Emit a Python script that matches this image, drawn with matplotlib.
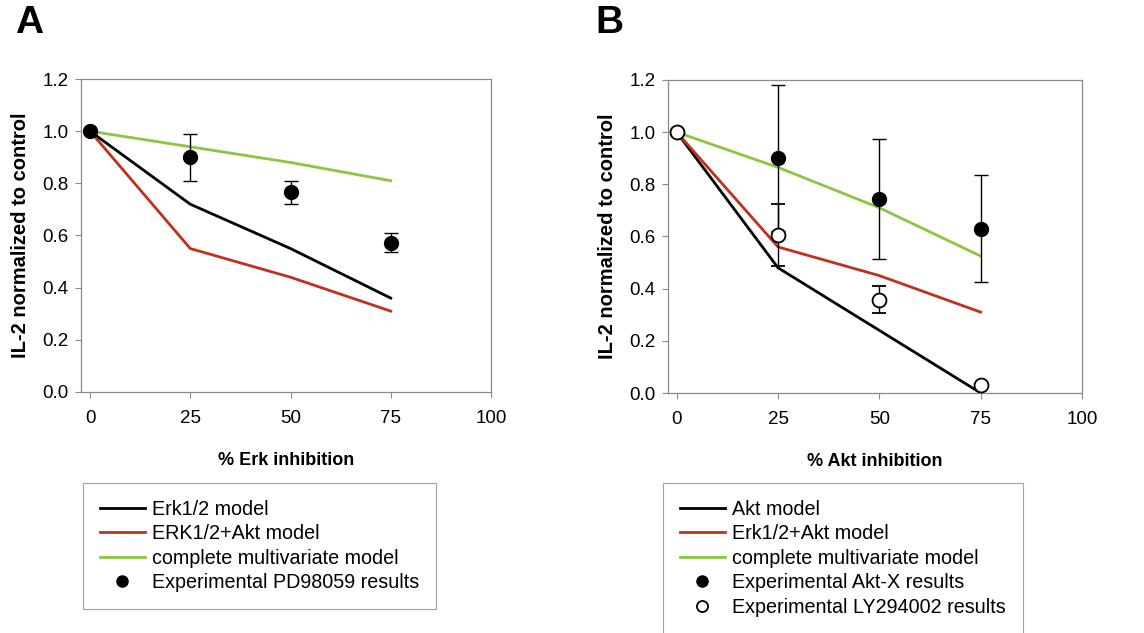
import numpy as np
import matplotlib
matplotlib.use("Agg")
import matplotlib.pyplot as plt

plt.rcParams['font.family'] = ['Liberation Sans', 'DejaVu Sans']

# ---------------- data ----------------
x_inhib = [0, 25, 50, 75]

# panel A (Erk inhibition)
a_erk_model = [1.0, 0.72, 0.55, 0.36]
a_erk_akt_model = [1.0, 0.55, 0.44, 0.31]
a_complete_model = [1.0, 0.94, 0.88, 0.81]
a_pd_mean = [1.0, 0.90, 0.765, 0.572]
a_pd_err = [0.0, 0.09, 0.045, 0.036]

# panel B (Akt inhibition)
b_akt_model = [1.0, 0.48, 0.24, 0.0]
b_erk_akt_model = [1.0, 0.56, 0.45, 0.31]
b_complete_model = [1.0, 0.865, 0.71, 0.525]
b_aktx_mean = [1.0, 0.90, 0.745, 0.63]
b_aktx_err = [0.0, 0.28, 0.23, 0.205]
b_ly_mean = [1.0, 0.605, 0.358, 0.03]
b_ly_err = [0.0, 0.12, 0.053, 0.0]

yticks = [0.0, 0.2, 0.4, 0.6, 0.8, 1.0, 1.2]
xticks = [0, 25, 50, 75, 100]

RED = '#c0301c'
GREEN = '#8cc63f'
SPINE = '#8a8a8a'

W, H = 1144, 633
fig = plt.figure(figsize=(W/100, H/100), dpi=100)


def make_axes(left, right, top, bottom):
    return fig.add_axes([left/W, 1-bottom/H, (right-left)/W, (bottom-top)/H])


def style_axes(ax, xlabel, xmin):
    ax.set_xlim(xmin, 100)
    ax.set_ylim(0, 1.2)
    ax.set_xticks(xticks)
    ax.set_yticks(yticks)
    ax.set_yticklabels(["%.1f" % v for v in yticks])
    ax.tick_params(direction='out', length=4, width=0.8, color=SPINE,
                   labelsize=13.5, pad=5)
    ax.tick_params(axis='x', pad=9)
    for s in ax.spines.values():
        s.set_color(SPINE)
        s.set_linewidth(0.9)
    ax.set_xlabel(xlabel, fontsize=13, fontweight='bold', labelpad=18)
    ax.set_ylabel("IL-2 normalized to control", fontsize=14.5,
                  fontweight='bold', labelpad=9)


def make_legend(ax, handles, labels, x0):
    leg = ax.legend(handles, labels,
                    loc='upper left', bbox_to_anchor=(x0/W, 1-483/H),
                    bbox_transform=fig.transFigure, borderaxespad=0,
                    fontsize=14.2, frameon=True, fancybox=False,
                    edgecolor=SPINE, handlelength=2.3, handletextpad=0.35,
                    labelspacing=0.28, borderpad=0.85, markerscale=0.8)
    leg.get_frame().set_linewidth(0.8)
    return leg


# ---------------- panel A ----------------
axA = make_axes(81, 491, 79, 392)
lA1, = axA.plot(x_inhib, a_erk_model, color='black', lw=2)
lA2, = axA.plot(x_inhib, a_erk_akt_model, color=RED, lw=2)
lA3, = axA.plot(x_inhib, a_complete_model, color=GREEN, lw=2)
eA = axA.errorbar(x_inhib, a_pd_mean, yerr=a_pd_err, fmt='o', color='black',
                  ms=10, capsize=5, elinewidth=1, capthick=1, zorder=5)
style_axes(axA, "% Erk inhibition", -2.25)

make_legend(axA, [lA1, lA2, lA3, eA.lines[0]],
            ['Erk1/2 model', 'ERK1/2+Akt model', 'complete multivariate model',
             'Experimental PD98059 results'], 83)

# ---------------- panel B ----------------
axB = make_axes(668, 1082, 80, 393)
lB1, = axB.plot(x_inhib, b_akt_model, color='black', lw=2)
lB2, = axB.plot(x_inhib, b_erk_akt_model, color=RED, lw=2)
lB3, = axB.plot(x_inhib, b_complete_model, color=GREEN, lw=2)
eB1 = axB.errorbar(x_inhib, b_aktx_mean, yerr=b_aktx_err, fmt='o', color='black',
                   ms=10, capsize=5, elinewidth=1, capthick=1, zorder=5)
eB2 = axB.errorbar(x_inhib, b_ly_mean, yerr=b_ly_err, fmt='o', color='black',
                   mfc='white', mec='black', mew=1.3, ms=10, capsize=5,
                   elinewidth=1, capthick=1, zorder=6)
style_axes(axB, "% Akt inhibition", -2.15)

make_legend(axB, [lB1, lB2, lB3, eB1.lines[0], eB2.lines[0]],
            ['Akt model', 'Erk1/2+Akt model', 'complete multivariate model',
             'Experimental Akt-X results', 'Experimental LY294002 results'], 663)

# panel letters
fig.text(29/W, 1-23/H, "A", fontsize=28, fontweight='bold', ha='center', va='center')
fig.text(609/W, 1-23/H, "B", fontsize=28, fontweight='bold', ha='center', va='center')

fig.savefig("out.png", dpi=100)
